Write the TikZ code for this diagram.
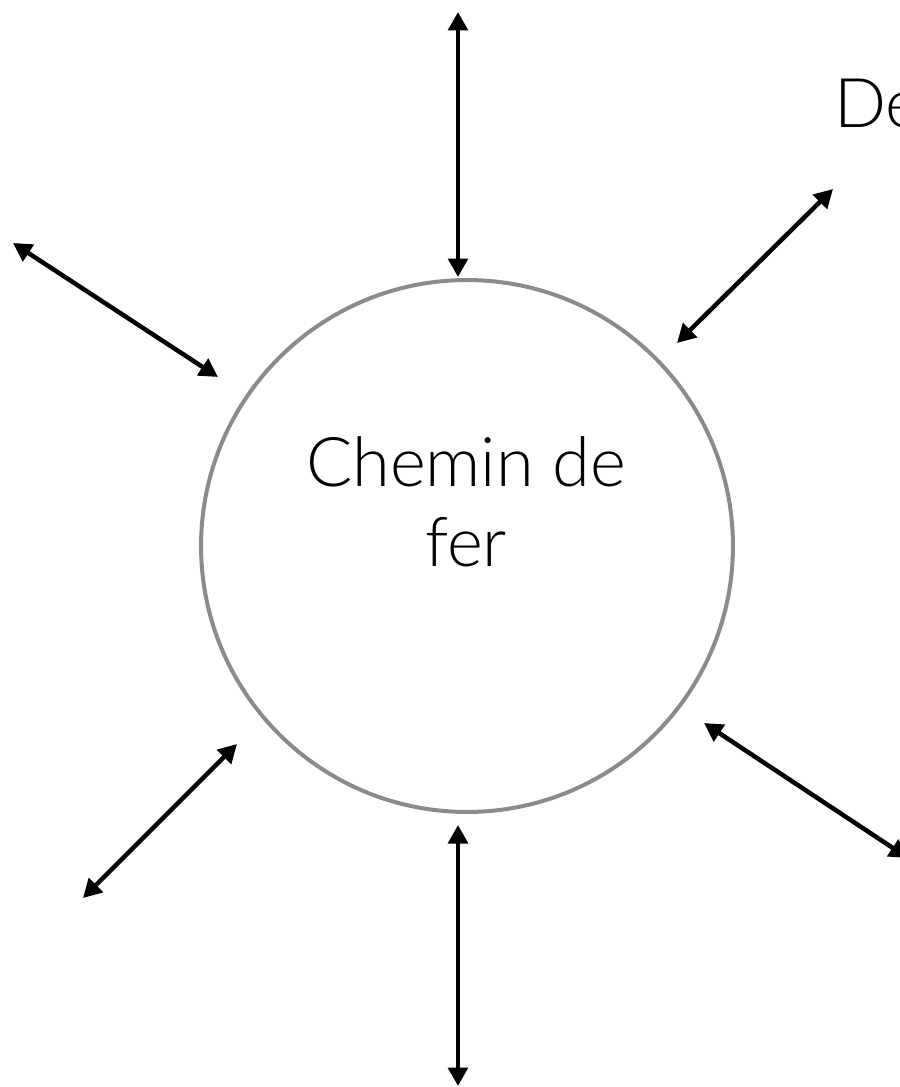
\documentclass[tikz,border=0pt]{standalone}
\usepackage{fontspec}
\IfFontExistsTF{Lato Light}{\setmainfont{Lato Light}}{\setmainfont{TeX Gyre Heros}}
\usetikzlibrary{arrows.meta,positioning}
\definecolor{ringgray}{RGB}{137,139,143}

\begin{document}
\begin{tikzpicture}
[x=0.02cm,y=-0.02cm,>={Triangle[length=0.37cm,width=0.39cm]},
link/.style = {<->, line width=0.09cm, black},
ring/.style = {draw=ringgray, circle, line width=0.08cm, minimum size=10.64cm, inner sep=0pt},
word/.style = {font=\fontsize{39}{45.5}\selectfont, align=center, inner sep=0pt},]
\useasboundingbox (0,0) rectangle (899,1087);
\node (rail) at (467,546)[ring] {};
\node (railtext) at (466,502)[word] {Chemin de\\fer};
\node (de) at (834,128)[word,anchor=base west] {De};
\coordinate (n1) at (458,12);
\coordinate (n2) at (458,277);
\coordinate (ne1) at (833,189);
\coordinate (ne2) at (677,343);
\coordinate (nw1) at (13,243);
\coordinate (nw2) at (218,377);
\coordinate (se1) at (704,723);
\coordinate (se2) at (908,858);
\coordinate (sw1) at (237,744);
\coordinate (sw2) at (83,898);
\coordinate (s1) at (458,825);
\coordinate (s2) at (458,1086);
\draw [link] (n1) -- (n2);
\draw [link] (ne1) -- (ne2);
\draw [link] (nw1) -- (nw2);
\draw [link] (se1) -- (se2);
\draw [link] (sw1) -- (sw2);
\draw [link] (s1) -- (s2);
\end{tikzpicture}
\end{document}
